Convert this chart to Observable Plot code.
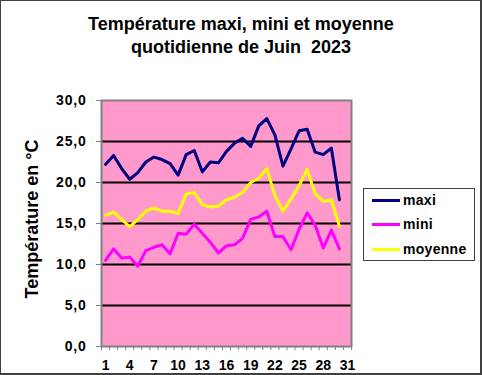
<!DOCTYPE html>
<html><head><meta charset="utf-8">
<script src="https://cdn.jsdelivr.net/npm/d3@7"></script>
<script src="https://cdn.jsdelivr.net/npm/@observablehq/plot@0.6"></script>
<style>
html,body{margin:0;padding:0;background:#fff;}
#chart{position:relative;width:482px;height:375px;overflow:hidden;font-family:"Liberation Sans",Arial,sans-serif;color:#000;}
#chart svg{position:absolute;left:0;top:0;}
#chart svg text{font-weight:bold;}
.title{position:absolute;left:0;width:482px;top:13px;text-align:center;font-weight:bold;font-size:18px;line-height:23px;}
.ylab{position:absolute;left:32px;top:219px;transform:translate(-50%,-50%) rotate(-90deg);white-space:nowrap;font-weight:bold;font-size:18px;}
.legend{position:absolute;left:363px;top:188px;width:112px;height:73px;box-sizing:border-box;border:1px solid #404040;background:#fff;}
.legend .row{position:absolute;left:8px;height:20px;display:flex;align-items:center;font-weight:bold;font-size:14px;letter-spacing:0.3px;}
.legend .sw{width:28px;height:3px;margin-right:3px;}
.outer{position:absolute;left:0;top:0;width:482px;height:375px;box-sizing:border-box;border-top:1px solid #404040;border-left:1px solid #404040;border-right:2px solid #404040;border-bottom:2px solid #404040;pointer-events:none;}
</style>
</head><body>
<div id="chart">
  <div class="title">Température maxi, mini et moyenne<br>quotidienne de Juin&nbsp; 2023</div>
  <div class="ylab">Température en °C</div>
  <div class="legend" id="legend"></div>
  <div class="outer"></div>
</div>
<script>
const days = [1,2,3,4,5,6,7,8,9,10,11,12,13,14,15,16,17,18,19,20,21,22,23,24,25,26,27,28,29,30];
const maxi = [22.2,23.3,21.7,20.4,21.2,22.5,23.1,22.8,22.3,20.9,23.4,23.9,21.3,22.5,22.4,23.8,24.8,25.4,24.4,26.9,27.8,25.8,22.0,24.1,26.3,26.5,23.7,23.4,24.2,17.9];
const mini = [10.5,11.9,10.8,10.9,9.8,11.7,12.1,12.4,11.3,13.8,13.7,14.9,13.8,12.7,11.4,12.3,12.4,13.2,15.5,15.8,16.5,13.4,13.4,11.8,14.3,16.3,14.8,12.0,14.2,11.9];
const moyenne = [16.0,16.4,15.5,14.6,15.5,16.5,16.9,16.5,16.5,16.2,18.6,18.8,17.3,17.0,17.1,17.9,18.2,18.8,20.0,20.5,21.7,18.4,16.5,18.0,19.6,21.6,18.6,17.7,17.9,14.7];
const seriesNames = ["maxi","mini","moyenne"];
const seriesColors = ["#000080","#FF00FF","#FFFF00"];
const yTicks = [0,5,10,15,20,25,30];
const xTickLabels = [1,4,7,10,13,16,19,22,25,28,31];
const categoryCount = 31;

const seriesValues = {maxi, mini, moyenne};
const data = [];
seriesNames.forEach(s => days.forEach((d,i) => data.push({day:d, serie:s, t:seriesValues[s][i]})));
const xBounds = d3.range(0, categoryCount + 1).map(k => k + 0.5);

const chart = Plot.plot({
  width:482, height:375,
  marginLeft:101, marginRight:131, marginTop:100, marginBottom:29,
  x:{domain:[0.5, categoryCount + 0.5]},
  y:{domain:[0,30]},
  color:{domain:seriesNames, range:seriesColors},
  style:{fontFamily:'"Liberation Sans",Arial,sans-serif', fontSize:"14px", color:"#000", background:"transparent"},
  marks:[
    Plot.frame({fill:"#FF99CC"}),
    Plot.ruleY([5,10,15,20,25], {stroke:"#000", strokeWidth:2}),
    Plot.line(data, {x:"day", y:"t", z:"serie", stroke:"serie", strokeWidth:3}),
    Plot.frame({stroke:"#808080", strokeWidth:2}),
    Plot.axisY({ticks:yTicks, tickSize:5, tickPadding:10, fontSize:14, tickFormat:d => d.toFixed(1).replace(".", ","), stroke:"#808080", label:null}),
    Plot.axisX({ticks:xBounds, tickSize:4, tickFormat:() => "", stroke:"#808080", label:null}),
    Plot.axisX({ticks:xTickLabels, tickSize:0, tickPadding:14, tickFormat:d => String(d), label:null})
  ]
});
d3.select(chart).selectAll('g[aria-label="y-axis tick label"] text').attr("letter-spacing", "0.8px");
document.getElementById("chart").prepend(chart);

const legend = document.getElementById("legend");
const rowTops = [1, 25, 50];
seriesNames.forEach((s,i) => {
  const row = document.createElement("div");
  row.className = "row";
  row.style.top = rowTops[i] + "px";
  const sw = document.createElement("div");
  sw.className = "sw";
  sw.style.background = seriesColors[i];
  const lab = document.createElement("span");
  lab.textContent = s;
  row.appendChild(sw); row.appendChild(lab);
  legend.appendChild(row);
});
</script>
</body></html>
